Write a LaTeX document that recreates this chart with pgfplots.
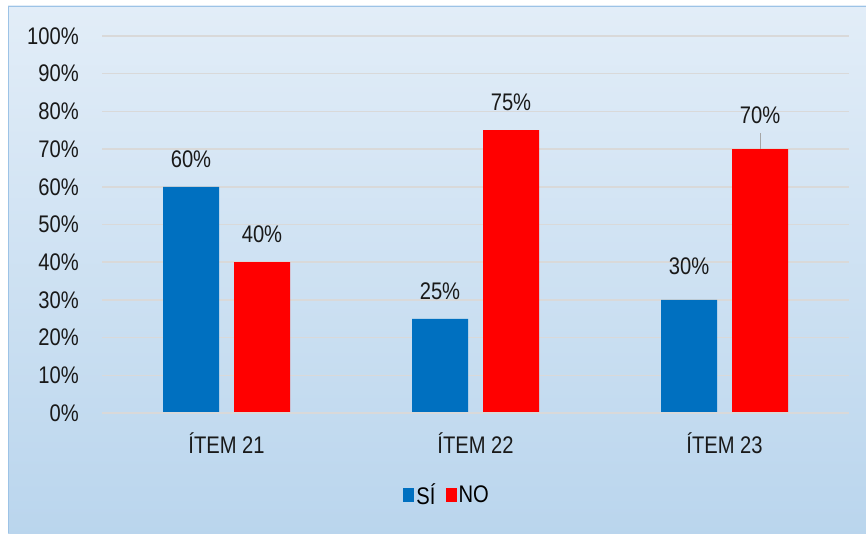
\documentclass[border=0pt]{standalone}
\usepackage{pgfplots}
\pgfplotsset{compat=1.18}
\usepackage{fontspec}
\setmainfont[FakeStretch=0.84]{Liberation Sans}
\definecolor{bgtop}{HTML}{F6F9FD}
\definecolor{bgmid}{HTML}{B6D3EC}
\definecolor{bgbot}{HTML}{C9DDF1}
\definecolor{frame}{HTML}{9DC3E6}
\definecolor{gridc}{HTML}{D9D9D9}
\definecolor{siblue}{HTML}{0070C0}
\definecolor{nored}{HTML}{FF0000}
\pgfdeclareverticalshading{bgshade}{100bp}{color(0bp)=(bgbot); color(20bp)=(bgmid); color(100bp)=(bgtop)}
\begin{document}
\begin{tikzpicture}[x=1pt,y=1pt]
\useasboundingbox (0,0) rectangle (866,533);
\fill[white] (0,0) rectangle (866,533);
\shade[shading=bgshade] (8,0) rectangle (866,527);
\draw[frame,line width=1.2pt] (8.6,0) -- (8.6,526.4) -- (866,526.4);
\begin{axis}[
  at={(102pt,120pt)}, anchor=south west,
  scale only axis, width=747pt, height=377pt,
  ybar=15pt, bar width=56pt,
  xmin=-0.5, xmax=2.5, ymin=0, ymax=100,
  xtick={0,1,2}, xticklabels={ÍTEM 21,ÍTEM 22,ÍTEM 23},
  ytick={0,10,...,100},
  yticklabel={\pgfmathprintnumber{\tick}\%},
  /pgf/number format/assume math mode=true,
  axis line style={draw=none},
  major tick length=0pt,
  ymajorgrids, grid style={gridc, line width=1.5pt},
  yticklabel style={inner sep=0pt, anchor=east, xshift=-23pt},
  xticklabel style={inner sep=0pt, anchor=north, yshift=-19pt},
  tick label style={font=\fontsize{24}{28}\selectfont, text=black!90},
  nodes near coords={\pgfmathprintnumber{\pgfplotspointmeta}\%},
  visualization depends on={x \as \rawx},
  every node near coord/.append style={font=\fontsize{24}{28}\selectfont, text=black!90, inner sep=0pt, anchor=south, yshift={19+6*(\rawx>1.5)}},
  legend style={at={(0.462,-0.2175)}, anchor=center, draw=none, fill=none, legend columns=2,
    font=\fontsize{24}{28}\selectfont, /tikz/every even column/.append style={column sep=8pt}},
  legend image code/.code={\fill[#1] (0pt,-7pt) rectangle (11pt,7pt);},
  legend cell align=left,
  clip=false,
]
\addplot[fill=siblue, draw=none] coordinates {(0,60) (1,25) (2,30)};
\addplot[fill=nored, draw=none] coordinates {(0,40) (1,75) (2,70)};
\legend{SÍ,NO}
\draw[gridc, line width=2pt] (axis cs:-0.5,0) -- (axis cs:2.5,0);
\draw[black!35, line width=1pt] ([xshift=35.5pt]axis cs:2,70) -- ([xshift=35.5pt,yshift=16pt]axis cs:2,70);
\end{axis}
\end{tikzpicture}
\end{document}
